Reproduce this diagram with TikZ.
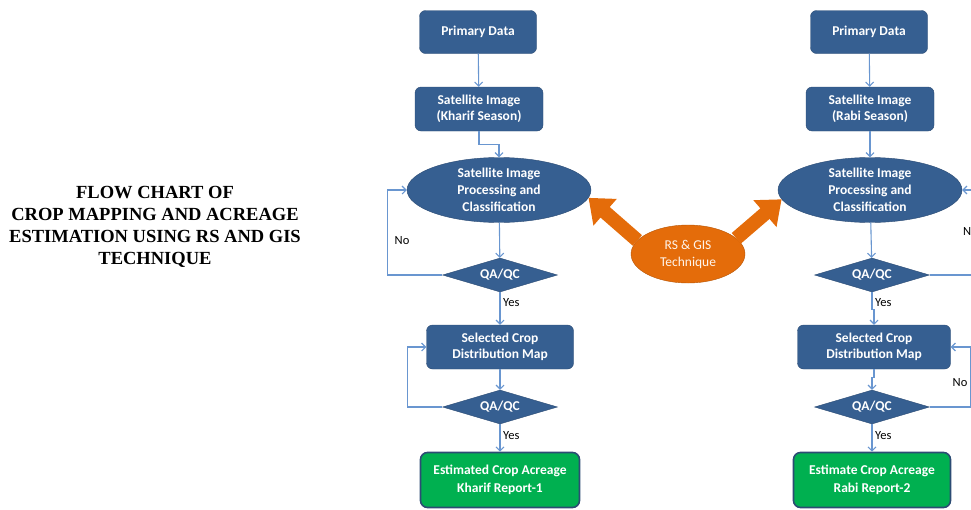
\documentclass[tikz,border=0pt]{standalone}
\usepackage{fontspec}
\setmainfont{Carlito}
\newfontfamily\titlefont{Liberation Serif}
\usetikzlibrary{shapes.geometric,arrows.meta}
\definecolor{boxblue}{RGB}{54,95,145}
\definecolor{boxline}{RGB}{44,76,116}
\definecolor{connblue}{RGB}{105,150,208}
\definecolor{cropgreen}{RGB}{0,176,80}
\definecolor{rsorange}{RGB}{228,108,10}
\begin{document}
\begin{tikzpicture}[x=1pt,y=-1pt]
    \tikzstyle{every node}+=[inner sep=0pt, font=\fontsize{13.5}{17}\selectfont]
    \tikzstyle{process}=[draw=boxline, fill=boxblue, text=white, rounded corners=6pt, align=center, font=\fontsize{13.5}{16}\selectfont\bfseries]
    \tikzstyle{classify}=[ellipse, draw=boxline, fill=boxblue, text=white, align=center, minimum width=184pt, minimum height=65pt, font=\fontsize{13.5}{17}\selectfont\bfseries]
    \tikzstyle{check}=[diamond, aspect=3.4, draw=boxline, fill=boxblue, text=white, minimum width=115pt, minimum height=34pt, font=\fontsize{13.5}{16}\selectfont\bfseries]
    \tikzstyle{report}=[draw=boxline, line width=1.6pt, fill=cropgreen, text=white, rounded corners=7pt, align=center, font=\fontsize{13.5}{18}\selectfont\bfseries]
    \tikzstyle{conn}=[draw=connblue, line width=1.1pt, -{Straight Barb[length=4pt,width=8pt]}]
    \tikzstyle{lab}=[font=\fontsize{12.5}{14}\selectfont]
    \tikzstyle{fat}=[draw=rsorange, line width=14pt, -{Triangle[length=22pt,width=34pt]}]
    \useasboundingbox (0,0) rectangle (971,509);
    \node[align=center, font=\titlefont\fontsize{18.5}{22}\selectfont\bfseries] (title) at (155,227) {FLOW CHART OF\\CROP MAPPING AND ACREAGE\\ESTIMATION USING RS AND GIS\\TECHNIQUE};
    \node[process, minimum width=117pt, minimum height=43pt] (pd1) at (478,32) {Primary Data};
    \node[process, minimum width=128pt, minimum height=44pt] (si1) at (479,109) {Satellite Image\\(Kharif Season)};
    \node[classify] (sip1) at (499,190) {Satellite Image\\Processing and\\Classification};
    \node[check] (qa1) at (500,275) {QA/QC};
    \node[process, minimum width=147pt, minimum height=44pt] (sc1) at (500,347) {Selected Crop\\Distribution Map};
    \node[check] (qa2) at (500,407) {QA/QC};
    \node[report, minimum width=159pt, minimum height=55pt] (est1) at (500,480) {Estimated Crop Acreage\\Kharif Report-1};
    \node[process, minimum width=117pt, minimum height=43pt] (pd2) at (869,32) {Primary Data};
    \node[process, minimum width=128pt, minimum height=44pt] (si2) at (870,109) {Satellite Image\\(Rabi Season)};
    \node[classify] (sip2) at (870,190) {Satellite Image\\Processing and\\Classification};
    \node[check] (qa3) at (872,275) {QA/QC};
    \node[process, minimum width=153pt, minimum height=44pt] (sc2) at (874,347) {Selected Crop\\Distribution Map};
    \node[check] (qa4) at (872,407) {QA/QC};
    \node[report, minimum width=157pt, minimum height=55pt] (est2) at (872,480) {Estimate Crop Acreage\\Rabi Report-2};
    \node[ellipse, fill=rsorange, draw=rsorange!80!black, text=white!92!orange, align=center, minimum width=114pt, minimum height=58pt] (rs) at (688,254) {RS \& GIS\\Technique};
    \draw[fat] (rs.165) -- (sip1.-5);
    \draw[fat] (rs.18) -- (sip2.186);
    \draw[conn] (pd1) -- (si1);
    \draw[conn] (si1.south) -- ++(0,13) -| (sip1.north);
    \draw[conn] (sip1) -- (qa1);
    \draw[conn] (qa1.west) -- ++(-55,0) |- (sip1.west);
    \draw[conn] (qa1) -- (sc1);
    \draw[conn] (sc1) -- (qa2);
    \draw[conn] (qa2.west) -- ++(-35,0) |- (sc1.west);
    \draw[conn] (qa2) -- (est1);
    \draw[conn] (pd2) -- (si2);
    \draw[conn] (si2) -- (sip2);
    \draw[conn] (sip2) -- (qa3);
    \coordinate (edge) at (985,232);
    \draw[conn] (qa3.east) -| (edge) |- (sip2.east);
    \draw[conn] (qa3.south) -- ++(0,17) -| (sc2.north);
    \draw[conn] (sc2.south) -- ++(0,8) -| (qa4.north);
    \draw[conn] (qa4.east) -- ++(41,0) |- (sc2.east);
    \draw[conn] (qa4) -- (est2);
    \node[lab] (no1) at (402,241) {No};
    \node[lab, anchor=west] (no2) at (963,232) {No};
    \node[lab] (no3) at (960,383) {No};
    \node[lab, anchor=west] (yes1) at (503,303) {Yes};
    \node[lab, anchor=west] (yes2) at (503,436) {Yes};
    \node[lab, anchor=west] (yes3) at (875,303) {Yes};
    \node[lab, anchor=west] (yes4) at (875,436) {Yes};
\end{tikzpicture}
\end{document}
